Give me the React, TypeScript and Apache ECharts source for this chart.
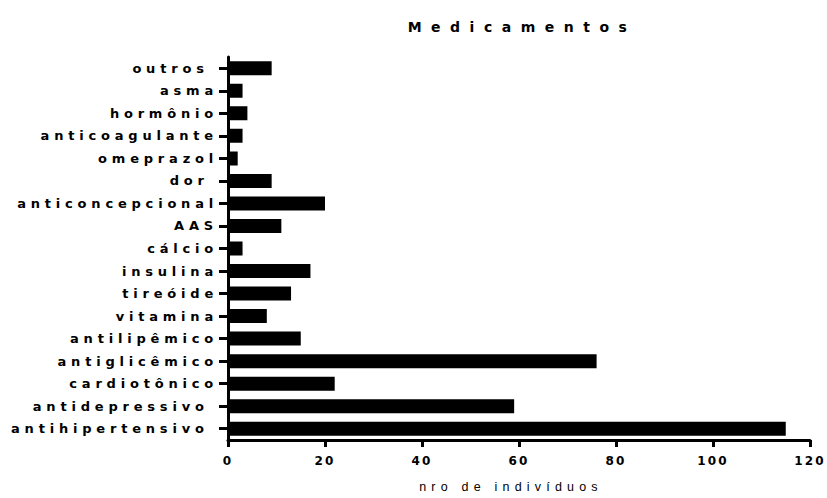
import React, { useEffect, useRef } from "react";
import * as echarts from "echarts";

// categories listed bottom-to-top (ECharts category order)
const categories: string[] = [
  "antihipertensivo ",
  "antidepressivo ",
  "cardiotônico",
  "antiglicêmico",
  "antilipêmico",
  "vitamina",
  "tireóide",
  "insulina",
  "cálcio",
  "AAS",
  "anticoncepcional",
  "dor ",
  "omeprazol",
  "anticoagulante",
  "hormônio",
  "asma",
  "outros ",
];
const values: number[] = [115, 59, 22, 76, 15, 8, 13, 17, 3, 11, 20, 9, 2, 3, 4, 3, 9];
const titleText = "Medicamentos";
const xAxisName = "nro de indivíduos";
const xMin = 0;
const xMax = 120;
const xInterval = 20;

export default function App() {
  const ref = useRef<HTMLDivElement>(null);
  useEffect(() => {
    document.body.style.margin = "0";
    if (!ref.current) return;
    const chart = echarts.init(ref.current, null, { renderer: "svg" });
    chart.setOption({
      animation: false,
      backgroundColor: "#ffffff",
      grid: { left: 228, right: 17, top: 57, bottom: 51, containLabel: false },
      graphic: [
        {
          type: "text",
          x: 522,
          y: 20,
          style: {
            text: titleText,
            fill: "#000",
            fontSize: 14,
            fontWeight: "bold",
            fontFamily: "DejaVu Sans",
            textAlign: "center",
            textVerticalAlign: "top",
          },
        },
      ],
      xAxis: {
        type: "value",
        min: xMin,
        max: xMax,
        interval: xInterval,
        name: xAxisName,
        nameLocation: "middle",
        nameGap: 40,
        nameTextStyle: {
          color: "#000000",
          fontSize: 12.5,
          fontFamily: "Liberation Sans",
          padding: [0, 16, 0, 0],
        },
        axisLine: { show: true, lineStyle: { color: "#000", width: 3 } },
        axisTick: { show: true, length: 7, lineStyle: { color: "#000", width: 3 } },
        axisLabel: {
          color: "#000",
          fontSize: 12,
          fontWeight: "bold",
          fontFamily: "DejaVu Sans",
          margin: 15,
        },
        splitLine: { show: false },
      },
      yAxis: {
        type: "category",
        data: categories,
        axisLine: { show: true, lineStyle: { color: "#000", width: 3 } },
        axisTick: { show: true, alignWithLabel: true, interval: 0, length: 9, lineStyle: { color: "#000", width: 3 } },
        axisLabel: {
          interval: 0,
          color: "#000",
          fontSize: 13,
          fontWeight: "bold",
          fontFamily: "DejaVu Sans",
          margin: 10,
        },
        splitLine: { show: false },
      },
      series: [
        {
          type: "bar",
          data: values,
          barWidth: 14,
          itemStyle: { color: "#000", borderColor: "#000", borderWidth: 4 },
        },
      ],
    });
    return () => chart.dispose();
  }, []);
  return (
    <>
      <style>{`
        #chart text[style*="14px"] { letter-spacing: 9.5px; }
        #chart text[style*="13px"] { letter-spacing: 4.8px; }
        #chart text[style*="12px"] { letter-spacing: 2.2px; }
        #chart text[style*="12.5px"] { letter-spacing: 5.2px; }
      `}</style>
      <div id="chart" ref={ref} style={{ width: 827, height: 498 }} />
    </>
  );
}
